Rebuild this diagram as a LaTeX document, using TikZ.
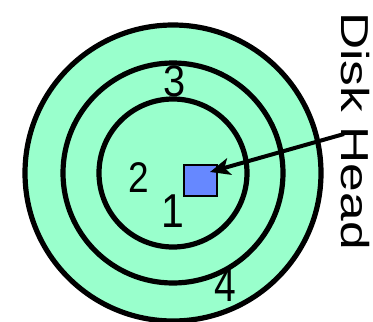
\documentclass[tikz,border=0pt]{standalone}
\usepackage{fontspec}
\setmainfont{Liberation Sans}
\usetikzlibrary{arrows.meta}
\definecolor{diskgreen}{HTML}{99FFCC}
\definecolor{headblue}{HTML}{6688FF}
\begin{document}
\begin{tikzpicture}[x=1pt,y=-1pt,
  ring/.style={draw=black, line width=5.2pt},
  num/.style={inner sep=0pt, font=\fontsize{39}{39}\selectfont},
  headbox/.style={draw=black, line width=2.5pt, fill=headblue, minimum width=33pt, minimum height=31pt, inner sep=0pt},
  pointer/.style={line width=4pt, -{Stealth[length=20pt,width=17pt,inset=5pt]}}]
\useasboundingbox (0,0) rectangle (373,322);
\coordinate (c) at (173,173);
\fill[diskgreen] (c) circle (150);
\draw[ring] (c) circle (148);
\draw[ring] (c) circle (110);
\draw[ring] (c) circle (74);
\node[headbox] (head) at (200.5,180.5) {};
\node[num] (n3) at (174.5,81) {\scalebox{1.02}[1.13]{3}};
\node[num] (n2) at (139,177.5) {\scalebox{0.95}[1.1]{2}};
\node[num] (n1) at (173,211) {\scalebox{1.05}[1.22]{1}};
\node[num] (n4) at (225.5,284.5) {\scalebox{1}[1.25]{4}};
\node[inner sep=0pt, rotate=-90, font=\fontsize{39}{39}\selectfont] (lbl) at (355,131) {\scalebox{1.32}[1]{Disk Head}};
\coordinate (start) at (344,134);
\coordinate (tip) at (210,172);
\draw[pointer] (start) -- (tip);
\end{tikzpicture}
\end{document}
